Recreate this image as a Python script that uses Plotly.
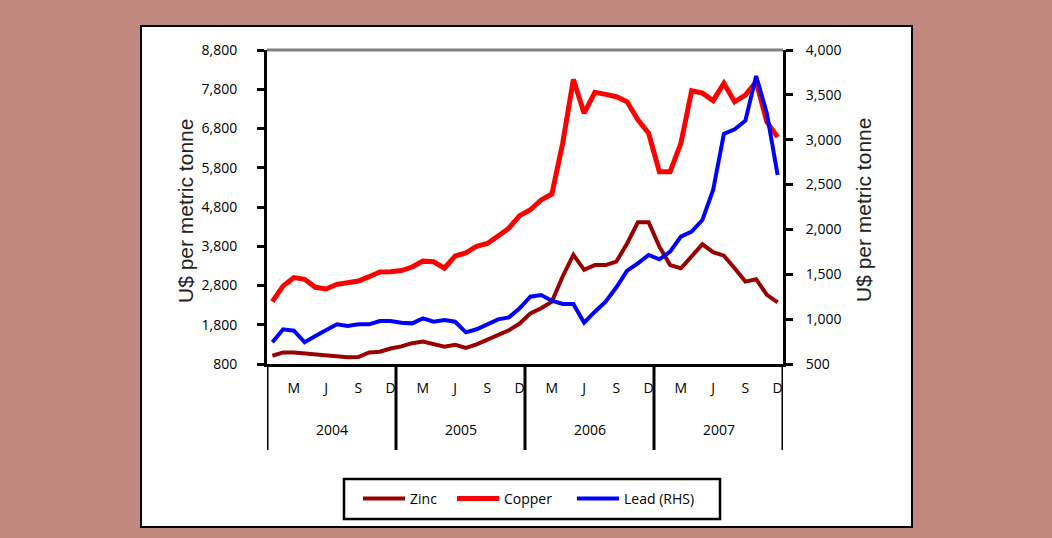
import plotly.graph_objects as go

# Monthly average prices, Jan 2004 - Dec 2007
months = list(range(48))
years = ["2004", "2005", "2006", "2007"]
month_ticks = ["M", "J", "S", "D"]

zinc = [1010, 1095, 1095, 1070, 1055, 1015, 1012, 972, 978, 1095, 1113, 1195,
        1250, 1330, 1370, 1300, 1240, 1290, 1210, 1300, 1420, 1530, 1660, 1830,
        2090, 2220, 2390, 3030, 3580, 3200, 3320, 3320, 3410, 3870, 4410, 4410,
        3790, 3320, 3240, 3540, 3850, 3650, 3560, 3240, 2900, 2960, 2560, 2370]

copper = [2390, 2790, 3000, 2958, 2754, 2711, 2830, 2872, 2915, 3025, 3144, 3152,
          3180, 3270, 3420, 3405, 3240, 3550, 3630, 3800, 3870, 4060, 4260, 4580,
          4730, 4980, 5130, 6420, 8050, 7190, 7720, 7670, 7610, 7480, 7020, 6680,
          5700, 5700, 6420, 7760, 7700, 7510, 7950, 7480, 7650, 7990, 6970, 6580]

lead = [742, 887, 871, 742, 812, 871, 942, 924, 942, 942, 979, 979,
        960, 953, 1009, 971, 990, 971, 853, 887, 946, 998, 1020, 1121,
        1250, 1269, 1206, 1169, 1169, 960, 1083, 1194, 1355, 1540, 1622, 1715,
        1667, 1752, 1919, 1975, 2105, 2439, 3064, 3116, 3212, 3710, 3294, 2607]

W, H = 1052, 538
L, R, T, B = 267, 783, 50, 364          # plot area in pixels
pw, ph = R - L, B - T


def px(x):
    return (x - L) / pw


def py(y):
    return (B - y) / ph


fig = go.Figure()
fig.add_trace(go.Scatter(x=months, y=zinc, name="Zinc", mode="lines",
                         line=dict(color="#990000", width=4), legend="legend"))
fig.add_trace(go.Scatter(x=months, y=copper, name="Copper", mode="lines",
                         line=dict(color="#FF0000", width=5), legend="legend2"))
fig.add_trace(go.Scatter(x=months, y=lead, name="Lead (RHS)", mode="lines",
                         line=dict(color="#0000FF", width=4), yaxis="y2",
                         legend="legend3"))

tick_font = dict(family="Open Sans", size=14, color="black")
legend_font = dict(family="Open Sans", size=14, color="black")

shapes = [
    # white chart panel with black frame
    dict(type="rect", xref="paper", yref="paper", layer="below",
         x0=px(141), x1=px(912), y0=py(527), y1=py(26),
         fillcolor="white", line=dict(color="black", width=2)),
    # grey top border of the plot area
    dict(type="line", xref="paper", yref="paper",
         x0=0, x1=1, y0=1, y1=1, line=dict(color="#808080", width=3)),
    # frame around the legend entries
    dict(type="rect", xref="paper", yref="paper", layer="below",
         x0=px(344), x1=px(720), y0=py(519), y1=py(479),
         fillcolor="white", line=dict(color="black", width=2.5)),
]
# year separators on the category axis
for xs in [-0.5, 11.5, 23.5, 35.5, 47.5]:
    shapes.append(dict(type="line", xref="x", yref="paper",
                       x0=xs, x1=xs, y0=0, y1=py(450),
                       line=dict(color="black", width=3)))

annotations = []
for i, yr in enumerate(years):
    annotations.append(dict(x=i * 12 + 5.5, y=py(429), xref="x", yref="paper",
                            text=yr, showarrow=False, font=tick_font,
                            xanchor="center", yanchor="middle"))
title_font = dict(family="Liberation Sans", size=21, color="#222222")
annotations.append(dict(x=px(185), y=py(211), xref="paper", yref="paper",
                        text="U$ per metric tonne", textangle=-90,
                        showarrow=False, font=title_font,
                        xanchor="center", yanchor="middle"))
annotations.append(dict(x=px(863), y=py(210), xref="paper", yref="paper",
                        text="U$ per metric tonne", textangle=-90,
                        showarrow=False, font=title_font,
                        xanchor="center", yanchor="middle"))

tickvals = [i * 12 + m for i in range(4) for m in (2, 5, 8, 11)]
ticktext = month_ticks * 4


def legend_at(xpix):
    return dict(orientation="h", x=px(xpix), xanchor="left",
                y=py(499), yanchor="middle",
                bgcolor="rgba(0,0,0,0)", borderwidth=0,
                font=legend_font, itemwidth=42)


fig.update_layout(
    width=W, height=H,
    margin=dict(l=L, r=W - R, t=T, b=H - B, autoexpand=False),
    paper_bgcolor="#C0887E",
    plot_bgcolor="white",
    showlegend=True,
    legend=legend_at(358),
    legend2=legend_at(452),
    legend3=legend_at(572),
    xaxis=dict(range=[-0.5, 47.5], tickvals=tickvals, ticktext=ticktext,
               showgrid=False, zeroline=False, showline=True,
               linecolor="black", linewidth=3, ticks="",
               ticklabelstandoff=9, tickfont=tick_font),
    yaxis=dict(range=[800, 8800], dtick=1000, tick0=800, tickformat=",",
               showgrid=False, zeroline=False, showline=True,
               linecolor="black", linewidth=3, ticks="outside",
               ticklen=7, tickwidth=3, tickcolor="black",
               ticklabelstandoff=17, tickfont=tick_font),
    yaxis2=dict(range=[500, 4000], dtick=500, tick0=500, tickformat=",",
                overlaying="y", side="right",
                showgrid=False, zeroline=False, showline=True,
                linecolor="black", linewidth=3, ticks="outside",
                ticklen=7, tickwidth=3, tickcolor="black",
                ticklabelstandoff=10, tickfont=tick_font),
    shapes=shapes,
    annotations=annotations,
)

fig.write_html("out.html")
